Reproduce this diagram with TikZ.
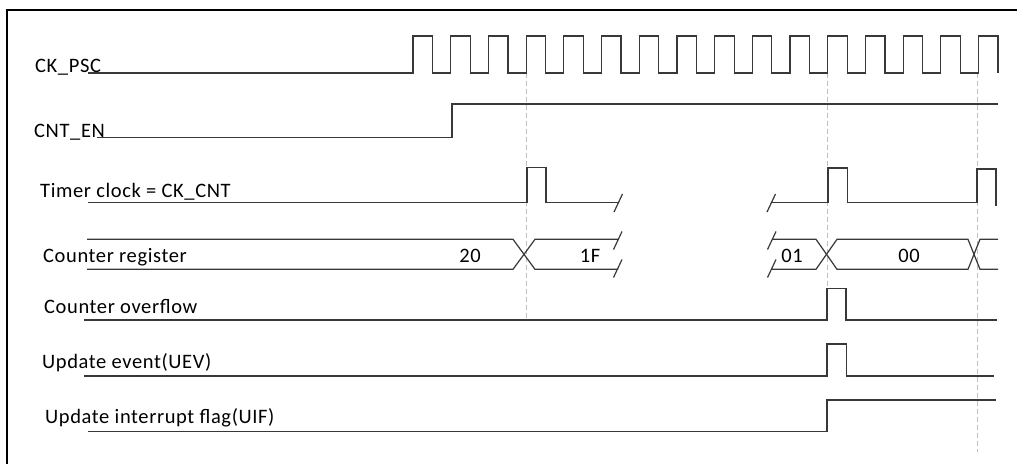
\documentclass[tikz,border=0pt]{standalone}
\usepackage{fontspec}
\setmainfont[LetterSpace=3]{Carlito}
\begin{document}
\begin{tikzpicture}[x=1pt,y=-1pt,
  sig/.style={draw=black!78, line width=1.2pt, line join=miter},
  guide/.style={draw=black!25, line width=1pt, dash pattern=on 5pt off 3pt},
  frameline/.style={draw=black, line width=1.4pt},
  lbl/.style={anchor=base west, inner sep=0pt, font=\fontsize{20.5}{22}\selectfont},
  val/.style={anchor=base, inner sep=0pt, font=\fontsize{20.5}{22}\selectfont}]
\useasboundingbox (0,0) rectangle (1017,464);
% frame
\draw[frameline] (7,464) -- (7,10) -- (1017,10);
% guides
\draw[guide] (526,73) -- (526,320);
\draw[guide] (827,73) -- (827,320);
\draw[guide] (977,73) -- (977,452);
% labels
\node[lbl] (lpsc) at (35,72) {CK\_PSC};
\node[lbl] (len) at (34,137) {CNT\_EN};
\node[lbl] (ltim) at (40,197) {Timer clock = CK\_CNT};
\node[lbl] (lreg) at (43,262) {Counter register};
\node[lbl] (lovf) at (44,313) {Counter overflow};
\node[lbl] (luev) at (42,368) {Update event(UEV)};
\node[lbl] (luif) at (45,423) {Update interrupt flag(UIF)};
% CK_PSC
\draw[sig] (88,73) \foreach \i in {0,...,15}{ -- ({413+37.7*\i},73) -- ({413+37.7*\i},36) -- ({432.5+37.7*\i},36) -- ({432.5+37.7*\i},73)};
% CNT_EN
\draw[sig] (97,137.7) -- (452,137.7) -- (452,104) -- (998,104);
% Timer clock
\draw[sig] (88,202.7) -- (527,202.7) -- (527,167.5) -- (546,167.5) -- (546,202.7) -- (618,202.7);
\draw[sig] (614,212) -- (622.5,194);
\draw[sig] (767,212) -- (775.5,194);
\draw[sig] (772,202.7) -- (828,202.7) -- (828,168) -- (847.5,168) -- (847.5,202.7) -- (977,202.7) -- (977,169) -- (996,169) -- (996,206);
% Counter register bus
\draw[sig] (87,239.3) -- (513,239.3) -- (535,269.3) -- (618,269.3);
\draw[sig] (87,269.3) -- (513,269.3) -- (535,239.3) -- (618,239.3);
\draw[sig] (613.5,249.5) -- (622,231.5);
\draw[sig] (613.5,277.5) -- (622,259.5);
\draw[sig] (767.5,249.5) -- (776,231.5);
\draw[sig] (767.5,277.5) -- (776,259.5);
\draw[sig] (772,239.3) -- (816,239.3) -- (837,269.3) -- (968,269.3) -- (980,239.3) -- (998,239.3);
\draw[sig] (772,269.3) -- (816,269.3) -- (837,239.3) -- (968,239.3) -- (980,269.3) -- (998,269.3);
\node[val] (v20) at (470,262) {20};
\node[val] (v1f) at (590,262) {1F};
\node[val] (v01) at (792,262) {01};
\node[val] (v00) at (909,262) {00};
% Counter overflow
\draw[sig] (84,320) -- (827,320) -- (827,288.3) -- (846,288.3) -- (846,320) -- (997,320);
% UEV
\draw[sig] (84,376) -- (827,376) -- (827,344) -- (846.5,344) -- (846.5,376) -- (994,376);
% UIF
\draw[sig] (88,431.7) -- (827,431.7) -- (827,400) -- (996,400);
\end{tikzpicture}
\end{document}
